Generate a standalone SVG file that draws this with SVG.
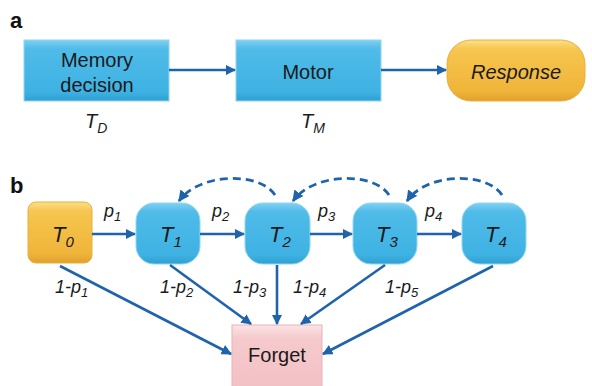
<svg xmlns="http://www.w3.org/2000/svg" width="592" height="386" viewBox="0 0 592 386">
<defs>
<linearGradient id="gBlue" x1="0" y1="0" x2="0" y2="1">
<stop offset="0" stop-color="#7fd0f2"/>
<stop offset="0.15" stop-color="#4fbbe8"/>
<stop offset="0.85" stop-color="#3eb2e3"/>
<stop offset="1" stop-color="#2f9fd0"/>
</linearGradient>
<linearGradient id="gOrange" x1="0" y1="0" x2="0" y2="1">
<stop offset="0" stop-color="#fbe08a"/>
<stop offset="0.15" stop-color="#f6c64e"/>
<stop offset="0.85" stop-color="#f0b43a"/>
<stop offset="1" stop-color="#e0a02c"/>
</linearGradient>
<linearGradient id="gPink" x1="0" y1="0" x2="0" y2="1">
<stop offset="0" stop-color="#fbe4e6"/>
<stop offset="0.2" stop-color="#f5cacd"/>
<stop offset="1" stop-color="#f2c0c4"/>
</linearGradient>
<marker id="ah" viewBox="0 0 10 10" refX="9" refY="5" markerWidth="4" markerHeight="4" orient="auto" markerUnits="strokeWidth">
<path d="M0,0 L10,5 L0,10 z" fill="#1f63ad"/>
</marker>
<style>
.lbl{font-family:"Liberation Sans",Arial,sans-serif;fill:#1a1a1a}
.it{font-style:italic}
.pl{font-family:"Liberation Sans",Arial,sans-serif;font-weight:bold;font-size:22px;fill:#111}
.ed{fill:none;stroke:#1f63ad;stroke-width:2.6;marker-end:url(#ah)}
.dash{stroke-dasharray:8,5;stroke-width:2.8}
.blue{fill:url(#gBlue);stroke:#8fd6f3;stroke-width:1}
</style>
</defs>
<rect width="592" height="386" fill="#ffffff"/>

<text class="pl" x="10" y="28">a</text>
<text class="pl" x="10" y="193">b</text>

<g id="memory">
<rect x="24" y="40" width="145" height="61" class="blue"/>
<text class="lbl" x="97" y="67" font-size="20" text-anchor="middle">Memory</text>
<text class="lbl" x="97" y="92" font-size="20" text-anchor="middle">decision</text>
<text class="lbl it" x="85" y="128" font-size="20">T<tspan font-size="14" dy="5">D</tspan></text>
</g>
<g id="motor">
<rect x="236" y="40" width="145" height="61" class="blue"/>
<text class="lbl" x="308" y="79" font-size="20" text-anchor="middle">Motor</text>
<text class="lbl it" x="301" y="128" font-size="20">T<tspan font-size="14" dy="5">M</tspan></text>
</g>
<g id="response">
<rect x="447" y="40" width="138" height="61" rx="24" fill="url(#gOrange)" stroke="#e8b040" stroke-width="1"/>
<text class="lbl it" x="516" y="79" font-size="20" text-anchor="middle">Response</text>
</g>

<g id="T0">
<rect x="28" y="202" width="64" height="61" rx="8" fill="url(#gOrange)" stroke="#e8b040" stroke-width="1"/>
<text class="lbl it" x="52" y="242" font-size="22">T<tspan font-size="15" dy="5">0</tspan></text>
</g>
<g id="T1">
<rect x="136" y="203" width="64" height="61" rx="18" class="blue"/>
<text class="lbl it" x="160" y="242" font-size="22">T<tspan font-size="15" dy="5">1</tspan></text>
</g>
<g id="T2">
<rect x="245" y="203" width="65" height="61" rx="18" class="blue"/>
<text class="lbl it" x="269" y="242" font-size="22">T<tspan font-size="15" dy="5">2</tspan></text>
</g>
<g id="T3">
<rect x="353" y="203" width="64" height="61" rx="18" class="blue"/>
<text class="lbl it" x="376" y="242" font-size="22">T<tspan font-size="15" dy="5">3</tspan></text>
</g>
<g id="T4">
<rect x="462" y="203" width="64" height="61" rx="18" class="blue"/>
<text class="lbl it" x="485" y="242" font-size="22">T<tspan font-size="15" dy="5">4</tspan></text>
</g>
<g id="forget">
<rect x="232" y="325" width="90" height="66" fill="url(#gPink)" stroke="#e9b3b8" stroke-width="1"/>
<text class="lbl" x="277" y="362" font-size="20" text-anchor="middle">Forget</text>
</g>

<g id="connectors">
<line class="ed" x1="169" y1="70" x2="235" y2="70"/>
<line class="ed" x1="381" y1="70" x2="446" y2="70"/>

<line class="ed" x1="92" y1="234" x2="135" y2="234"/>
<line class="ed" x1="200" y1="234" x2="244" y2="234"/>
<line class="ed" x1="310" y1="234" x2="352" y2="234"/>
<line class="ed" x1="417" y1="234" x2="461" y2="234"/>

<path class="ed dash" d="M275,195 C260,172 200,172 179,201"/>
<path class="ed dash" d="M389,195 C374,172 314,172 293,201"/>
<path class="ed dash" d="M502,195 C487,172 427,172 407,201"/>

<line class="ed" x1="60" y1="266" x2="231" y2="354"/>
<line class="ed" x1="170" y1="265" x2="251" y2="324"/>
<line class="ed" x1="277" y1="265" x2="277" y2="324"/>
<line class="ed" x1="385" y1="265" x2="301" y2="324"/>
<line class="ed" x1="493" y1="266" x2="323" y2="354"/>
</g>

<g id="labels">
<text class="lbl it" x="104" y="217" font-size="18">p<tspan font-size="13" dy="4">1</tspan></text>
<text class="lbl it" x="212" y="217" font-size="18">p<tspan font-size="13" dy="4">2</tspan></text>
<text class="lbl it" x="318" y="217" font-size="18">p<tspan font-size="13" dy="4">3</tspan></text>
<text class="lbl it" x="425" y="217" font-size="18">p<tspan font-size="13" dy="4">4</tspan></text>
<text class="lbl it" x="55" y="293" font-size="18">1-p<tspan font-size="13" dy="4">1</tspan></text>
<text class="lbl it" x="160" y="293" font-size="18">1-p<tspan font-size="13" dy="4">2</tspan></text>
<text class="lbl it" x="233" y="293" font-size="18">1-p<tspan font-size="13" dy="4">3</tspan></text>
<text class="lbl it" x="293" y="293" font-size="18">1-p<tspan font-size="13" dy="4">4</tspan></text>
<text class="lbl it" x="385" y="293" font-size="18">1-p<tspan font-size="13" dy="4">5</tspan></text>
</g>
</svg>
